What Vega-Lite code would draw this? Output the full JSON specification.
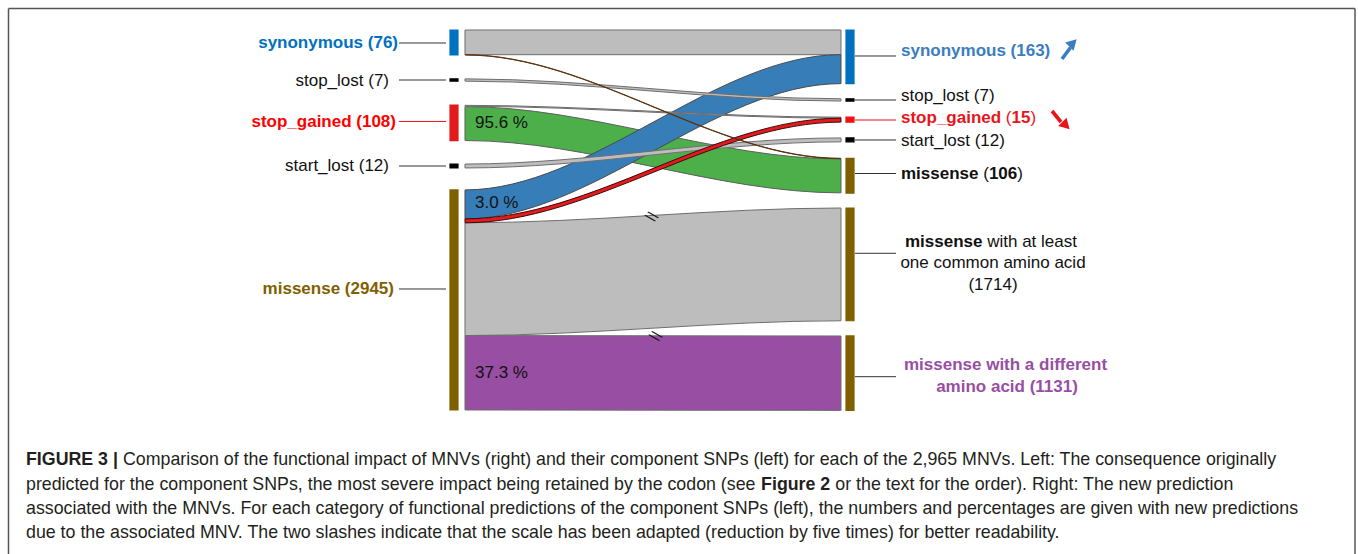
{
  "$schema": "https://vega.github.io/schema/vega-lite/v6.json",
  "width": 1358,
  "height": 554,
  "padding": 0,
  "autosize": {"type": "none"},
  "background": "white",
  "config": {"view": {"stroke": null}, "text": {"font": "Liberation Sans"}},
  "resolve": {"scale": {"color": "independent", "fill": "independent", "stroke": "independent"}},
  "datasets": {
    "flows": [
      {"flow": "f01", "change": "unchanged", "x": 0, "y0": 0, "y1": 75},
      {"flow": "f01", "change": "unchanged", "x": 0.001, "y0": 0, "y1": 75},
      {"flow": "f01", "change": "unchanged", "x": 0.999, "y0": 0, "y1": 75},
      {"flow": "f01", "change": "unchanged", "x": 1, "y0": 0, "y1": 75},
      {"flow": "f02", "change": "unchanged", "x": 0, "y0": 586, "y1": 928.8},
      {"flow": "f02", "change": "unchanged", "x": 0.001, "y0": 586, "y1": 928.8},
      {"flow": "f02", "change": "unchanged", "x": 0.999, "y0": 541, "y1": 883.8},
      {"flow": "f02", "change": "unchanged", "x": 1, "y0": 541, "y1": 883.8},
      {"flow": "f03", "change": "to_missense_different", "x": 0, "y0": 928.8, "y1": 1155},
      {"flow": "f03", "change": "to_missense_different", "x": 0.001, "y0": 928.8, "y1": 1155},
      {"flow": "f03", "change": "to_missense_different", "x": 0.999, "y0": 930, "y1": 1156.2},
      {"flow": "f03", "change": "to_missense_different", "x": 1, "y0": 930, "y1": 1156.2},
      {"flow": "f04", "change": "to_missense", "x": 0, "y0": 233, "y1": 336},
      {"flow": "f04", "change": "to_missense", "x": 0.001, "y0": 233, "y1": 336},
      {"flow": "f04", "change": "to_missense", "x": 0.999, "y0": 392, "y1": 495},
      {"flow": "f04", "change": "to_missense", "x": 1, "y0": 392, "y1": 495},
      {"flow": "f05", "change": "to_synonymous", "x": 0, "y0": 486, "y1": 574},
      {"flow": "f05", "change": "to_synonymous", "x": 0.001, "y0": 486, "y1": 574},
      {"flow": "f05", "change": "to_synonymous", "x": 0.999, "y0": 75, "y1": 163},
      {"flow": "f05", "change": "to_synonymous", "x": 1, "y0": 75, "y1": 163},
      {"flow": "f06", "change": "unchanged", "x": 0, "y0": 148.5, "y1": 155.5},
      {"flow": "f06", "change": "unchanged", "x": 0.001, "y0": 148.5, "y1": 155.5},
      {"flow": "f06", "change": "unchanged", "x": 0.999, "y0": 209, "y1": 216},
      {"flow": "f06", "change": "unchanged", "x": 1, "y0": 209, "y1": 216},
      {"flow": "f07", "change": "unchanged", "x": 0, "y0": 229, "y1": 232},
      {"flow": "f07", "change": "unchanged", "x": 0.001, "y0": 229, "y1": 232},
      {"flow": "f07", "change": "unchanged", "x": 0.999, "y0": 265, "y1": 268},
      {"flow": "f07", "change": "unchanged", "x": 1, "y0": 265, "y1": 268},
      {"flow": "f08", "change": "unchanged", "x": 0, "y0": 407.4, "y1": 419.4},
      {"flow": "f08", "change": "unchanged", "x": 0.001, "y0": 407.4, "y1": 419.4},
      {"flow": "f08", "change": "unchanged", "x": 0.999, "y0": 328, "y1": 340},
      {"flow": "f08", "change": "unchanged", "x": 1, "y0": 328, "y1": 340},
      {"flow": "f09", "change": "to_stop_gained", "x": 0, "y0": 574, "y1": 586},
      {"flow": "f09", "change": "to_stop_gained", "x": 0.001, "y0": 574, "y1": 586},
      {"flow": "f09", "change": "to_stop_gained", "x": 0.999, "y0": 268, "y1": 280},
      {"flow": "f09", "change": "to_stop_gained", "x": 1, "y0": 268, "y1": 280},
      {"flow": "f10", "change": "synonymous_to_missense", "x": 0, "y0": 75, "y1": 76},
      {"flow": "f10", "change": "synonymous_to_missense", "x": 0.001, "y0": 75, "y1": 76},
      {"flow": "f10", "change": "synonymous_to_missense", "x": 0.999, "y0": 390, "y1": 391},
      {"flow": "f10", "change": "synonymous_to_missense", "x": 1, "y0": 390, "y1": 391}
    ],
    "nodes": [
      {"side": "left", "node": "synonymous", "y0": 0, "y1": 76},
      {"side": "left", "node": "stop_lost", "y0": 148.5, "y1": 155.5},
      {"side": "left", "node": "stop_gained", "y0": 228, "y1": 336},
      {"side": "left", "node": "start_lost", "y0": 407.4, "y1": 419.4},
      {"side": "left", "node": "missense", "y0": 486, "y1": 1155},
      {"side": "right", "node": "synonymous", "y0": 0, "y1": 163},
      {"side": "right", "node": "stop_lost", "y0": 209, "y1": 216},
      {"side": "right", "node": "stop_gained", "y0": 265, "y1": 280},
      {"side": "right", "node": "start_lost", "y0": 328, "y1": 340},
      {"side": "right", "node": "missense", "y0": 390, "y1": 496},
      {"side": "right", "node": "missense_common", "y0": 541, "y1": 883.8},
      {"side": "right", "node": "missense_different", "y0": 930, "y1": 1156.2}
    ],
    "links": [
      {"side": "left", "node": "synonymous", "y": 39.5},
      {"side": "left", "node": "stop_lost", "y": 152},
      {"side": "left", "node": "stop_gained", "y": 278},
      {"side": "left", "node": "start_lost", "y": 413.4},
      {"side": "left", "node": "missense", "y": 787.2},
      {"side": "right", "node": "synonymous", "y": 79},
      {"side": "right", "node": "stop_lost", "y": 212.8},
      {"side": "right", "node": "stop_gained", "y": 273.6},
      {"side": "right", "node": "start_lost", "y": 334.3},
      {"side": "right", "node": "missense", "y": 436.2},
      {"side": "right", "node": "missense_common", "y": 678.7},
      {"side": "right", "node": "missense_different", "y": 1053.8}
    ],
    "leftBold": [
      {"text": "synonymous (76)", "node": "synonymous", "x": -0.17819, "y": 38.6},
      {"text": "stop_gained (108)", "node": "stop_gained", "x": -0.18351, "y": 278.72},
      {"text": "missense (2945)", "node": "missense", "x": -0.18883, "y": 788.15}
    ],
    "leftPlain": [
      {"text": "stop_lost (7)", "node": "stop_lost", "x": -0.20213, "y": 154.1},
      {"text": "start_lost (12)", "node": "start_lost", "x": -0.20213, "y": 412.46}
    ],
    "rightBold": [
      {"text": "synonymous (163)", "node": "synonymous", "x": 1.15957, "y": 62.92},
      {"text": "stop_gained", "node": "stop_gained", "x": 1.15957, "y": 266.57},
      {"text": "15", "node": "stop_gained", "x": 1.45346, "y": 266.57},
      {"text": "missense", "node": "missense", "x": 1.15957, "y": 437.69},
      {"text": "106", "node": "missense", "x": 1.39335, "y": 437.69},
      {"text": "missense", "node": "missense_common", "x": 1.17021, "y": 645.29}
    ],
    "rightPlain": [
      {"text": "stop_lost (7)", "node": "stop_lost", "x": 1.15957, "y": 200.61},
      {"text": "(", "node": "stop_gained", "x": 1.4383, "y": 266.57},
      {"text": ")", "node": "stop_gained", "x": 1.50372, "y": 266.57},
      {"text": "start_lost (12)", "node": "start_lost", "x": 1.15957, "y": 336.47},
      {"text": "(", "node": "missense", "x": 1.37819, "y": 437.69},
      {"text": ")", "node": "missense", "x": 1.46888, "y": 437.69},
      {"text": "with at least", "node": "missense_common", "x": 1.38883, "y": 645.29}
    ],
    "centerPlain": [
      {"text": "one common amino acid", "node": "missense_common", "x": 1.40426, "y": 709.12},
      {"text": "(1714)", "node": "missense_common", "x": 1.40426, "y": 775.08}
    ],
    "centerBold": [
      {"text": "missense with a different", "node": "missense_different", "x": 1.4375, "y": 1018.24},
      {"text": "amino acid (1131)", "node": "missense_different", "x": 1.44149, "y": 1084.19}
    ],
    "percents": [
      {"text": "95.6 %", "y": 282.67},
      {"text": "3.0 %", "y": 525.84},
      {"text": "37.3 %", "y": 1042.55}
    ],
    "breaks": [
      {"x": 0.49734, "y": 568.4},
      {"x": 0.50798, "y": 931.6}
    ],
    "arrowShafts": [
      {"trend": "up", "x": 1.58777, "y": 88.1, "x2": 1.61037, "y2": 53.2},
      {"trend": "down", "x": 1.56117, "y": 246.2, "x2": 1.58511, "y2": 279.6}
    ],
    "arrowHeads": [
      {"trend": "up", "x": 1.61702, "y": 39.5},
      {"trend": "down", "x": 1.5984, "y": 290.3}
    ],
    "captionBold": [
      {"text": "FIGURE 3 |", "x": -1.16755, "y": 1307.0},
      {"text": "Figure 2", "x": 0.7875, "y": 1381.5}
    ],
    "captionPlain": [
      {"text": "Comparison of the functional impact of MNVs (right) and their component SNPs (left) for each of the 2,965 MNVs. Left: The consequence originally", "x": -0.90957, "y": 1307.0},
      {"text": "predicted for the component SNPs, the most severe impact being retained by the codon (see", "x": -1.16755, "y": 1381.5},
      {"text": "or the text for the order). Right: The new prediction", "x": 0.98484, "y": 1381.5},
      {"text": "associated with the MNVs. For each category of functional predictions of the component SNPs (left), the numbers and percentages are given with new predictions", "x": -1.16755, "y": 1455.9},
      {"text": "due to the associated MNV. The two slashes indicate that the scale has been adapted (reduction by five times) for better readability.", "x": -1.16755, "y": 1528.9}
    ]
  },
  "layer": [
    {
      "data": {"values": [{}]},
      "mark": {"type": "rule", "stroke": "#555555", "strokeWidth": 1.5},
      "encoding": {
        "x": {"datum": -1.2141, "type": "quantitative", "scale": {"domain": [-1.2367, 2.375], "nice": false, "zero": false}, "axis": null},
        "x2": {"datum": 2.36702},
        "y": {"datum": -65.35, "type": "quantitative", "scale": {"domain": [-91.185, 1592.705], "nice": false, "zero": false, "reverse": true}, "axis": null}
      }
    },
    {
      "data": {"values": [{}]},
      "mark": {"type": "rule", "stroke": "#555555", "strokeWidth": 1.5},
      "encoding": {
        "x": {"datum": -1.2141, "type": "quantitative", "scale": {"domain": [-1.2367, 2.375], "nice": false, "zero": false}, "axis": null},
        "y": {"datum": -65.35, "type": "quantitative", "scale": {"domain": [-91.185, 1592.705], "nice": false, "zero": false, "reverse": true}, "axis": null},
        "y2": {"datum": 1592.705}
      }
    },
    {
      "data": {"values": [{}]},
      "mark": {"type": "rule", "stroke": "#555555", "strokeWidth": 1.5},
      "encoding": {
        "x": {"datum": 2.36702, "type": "quantitative", "scale": {"domain": [-1.2367, 2.375], "nice": false, "zero": false}, "axis": null},
        "y": {"datum": -65.35, "type": "quantitative", "scale": {"domain": [-91.185, 1592.705], "nice": false, "zero": false, "reverse": true}, "axis": null},
        "y2": {"datum": 1592.705}
      }
    },
    {
      "data": {"name": "flows"},
      "mark": {"type": "area", "interpolate": "monotone", "strokeWidth": 1},
      "encoding": {
        "x": {"field": "x", "type": "quantitative", "scale": {"domain": [-1.2367, 2.375], "nice": false, "zero": false}, "axis": null},
        "y": {"field": "y0", "type": "quantitative", "scale": {"domain": [-91.185, 1592.705], "nice": false, "zero": false, "reverse": true}, "axis": null},
        "y2": {"field": "y1"},
        "detail": {"field": "flow"},
        "fill": {"field": "change", "type": "nominal", "legend": null,
          "scale": {"domain": ["unchanged", "to_missense_different", "to_missense", "to_synonymous", "to_stop_gained", "synonymous_to_missense"],
                    "range": ["#BDBDBD", "#984EA3", "#4DAF4A", "#377EB8", "#E41A1C", "#7B4B22"]}},
        "stroke": {"field": "change", "type": "nominal", "legend": null,
          "scale": {"domain": ["unchanged", "to_missense_different", "to_missense", "to_synonymous", "to_stop_gained", "synonymous_to_missense"],
                    "range": ["#6E6E6E", "#6E6E6E", "#5E5E5E", "#4A4A4A", "#3A0A0A", "#5A3412"]}}
      }
    },
    {
      "data": {"name": "nodes"},
      "transform": [{"filter": "datum.side === 'left'"}],
      "mark": {"type": "rect", "strokeWidth": 1.2},
      "encoding": {
        "x": {"datum": -0.03989, "type": "quantitative", "scale": {"domain": [-1.2367, 2.375], "nice": false, "zero": false}, "axis": null},
        "x2": {"datum": -0.01862},
        "y": {"field": "y0", "type": "quantitative", "scale": {"domain": [-91.185, 1592.705], "nice": false, "zero": false, "reverse": true}, "axis": null},
        "y2": {"field": "y1"},
        "fill": {"field": "node", "type": "nominal", "legend": null,
          "scale": {"domain": ["synonymous", "stop_lost", "stop_gained", "start_lost", "missense"],
                    "range": ["#0070C0", "#000000", "#E31A1C", "#000000", "#7F6000"]}},
        "stroke": {"field": "node", "type": "nominal", "legend": null,
          "scale": {"domain": ["synonymous", "stop_lost", "stop_gained", "start_lost", "missense"],
                    "range": ["#0070C0", "#000000", "#E31A1C", "#000000", "#7F6000"]}}
      }
    },
    {
      "data": {"name": "nodes"},
      "transform": [{"filter": "datum.side === 'right'"}],
      "mark": {"type": "rect", "strokeWidth": 1.2},
      "encoding": {
        "x": {"datum": 1.0133, "type": "quantitative", "scale": {"domain": [-1.2367, 2.375], "nice": false, "zero": false}, "axis": null},
        "x2": {"datum": 1.03457},
        "y": {"field": "y0", "type": "quantitative", "scale": {"domain": [-91.185, 1592.705], "nice": false, "zero": false, "reverse": true}, "axis": null},
        "y2": {"field": "y1"},
        "fill": {"field": "node", "type": "nominal", "legend": null,
          "scale": {"domain": ["synonymous", "stop_lost", "stop_gained", "start_lost", "missense", "missense_common", "missense_different"],
                    "range": ["#0070C0", "#000000", "#F01010", "#000000", "#7F6000", "#7F6000", "#7F6000"]}},
        "stroke": {"field": "node", "type": "nominal", "legend": null,
          "scale": {"domain": ["synonymous", "stop_lost", "stop_gained", "start_lost", "missense", "missense_common", "missense_different"],
                    "range": ["#0070C0", "#000000", "#F01010", "#000000", "#7F6000", "#7F6000", "#7F6000"]}}
      }
    },
    {
      "data": {"name": "links"},
      "transform": [{"filter": "datum.side === 'left'"}],
      "mark": {"type": "rule", "strokeWidth": 1},
      "encoding": {
        "x": {"datum": -0.17553, "type": "quantitative", "scale": {"domain": [-1.2367, 2.375], "nice": false, "zero": false}, "axis": null},
        "x2": {"datum": -0.05053},
        "y": {"field": "y", "type": "quantitative", "scale": {"domain": [-91.185, 1592.705], "nice": false, "zero": false, "reverse": true}, "axis": null},
        "color": {"field": "node", "type": "nominal", "legend": null,
          "scale": {"domain": ["synonymous", "stop_lost", "stop_gained", "start_lost", "missense"],
                    "range": ["#333333", "#333333", "#E8141C", "#333333", "#333333"]}}
      }
    },
    {
      "data": {"name": "links"},
      "transform": [{"filter": "datum.side === 'right'"}],
      "mark": {"type": "rule", "strokeWidth": 1},
      "encoding": {
        "x": {"datum": 1.03723, "type": "quantitative", "scale": {"domain": [-1.2367, 2.375], "nice": false, "zero": false}, "axis": null},
        "x2": {"datum": 1.14628},
        "y": {"field": "y", "type": "quantitative", "scale": {"domain": [-91.185, 1592.705], "nice": false, "zero": false, "reverse": true}, "axis": null},
        "color": {"field": "node", "type": "nominal", "legend": null,
          "scale": {"domain": ["synonymous", "stop_lost", "stop_gained", "start_lost", "missense", "missense_common", "missense_different"],
                    "range": ["#333333", "#333333", "#E8141C", "#333333", "#333333", "#333333", "#333333"]}}
      }
    },
    {
      "data": {"name": "leftBold"},
      "mark": {"type": "text", "align": "right", "baseline": "middle", "fontSize": 17, "fontWeight": "bold", "font": "Liberation Sans"},
      "encoding": {
        "x": {"field": "x", "type": "quantitative", "scale": {"domain": [-1.2367, 2.375], "nice": false, "zero": false}, "axis": null},
        "y": {"field": "y", "type": "quantitative", "scale": {"domain": [-91.185, 1592.705], "nice": false, "zero": false, "reverse": true}, "axis": null},
        "text": {"field": "text"},
        "color": {"field": "node", "type": "nominal", "legend": null,
          "scale": {"domain": ["synonymous", "stop_gained", "missense"], "range": ["#0070C0", "#FF0000", "#7F6000"]}}
      }
    },
    {
      "data": {"name": "leftPlain"},
      "mark": {"type": "text", "align": "right", "baseline": "middle", "fontSize": 17, "font": "Liberation Sans", "color": "#111111"},
      "encoding": {
        "x": {"field": "x", "type": "quantitative", "scale": {"domain": [-1.2367, 2.375], "nice": false, "zero": false}, "axis": null},
        "y": {"field": "y", "type": "quantitative", "scale": {"domain": [-91.185, 1592.705], "nice": false, "zero": false, "reverse": true}, "axis": null},
        "text": {"field": "text"}
      }
    },
    {
      "data": {"name": "rightBold"},
      "mark": {"type": "text", "align": "left", "baseline": "middle", "fontSize": 17, "fontWeight": "bold", "font": "Liberation Sans"},
      "encoding": {
        "x": {"field": "x", "type": "quantitative", "scale": {"domain": [-1.2367, 2.375], "nice": false, "zero": false}, "axis": null},
        "y": {"field": "y", "type": "quantitative", "scale": {"domain": [-91.185, 1592.705], "nice": false, "zero": false, "reverse": true}, "axis": null},
        "text": {"field": "text"},
        "color": {"field": "node", "type": "nominal", "legend": null,
          "scale": {"domain": ["synonymous", "stop_gained", "missense", "missense_common"], "range": ["#3A7DC0", "#E8141C", "#111111", "#111111"]}}
      }
    },
    {
      "data": {"name": "rightPlain"},
      "mark": {"type": "text", "align": "left", "baseline": "middle", "fontSize": 17, "font": "Liberation Sans"},
      "encoding": {
        "x": {"field": "x", "type": "quantitative", "scale": {"domain": [-1.2367, 2.375], "nice": false, "zero": false}, "axis": null},
        "y": {"field": "y", "type": "quantitative", "scale": {"domain": [-91.185, 1592.705], "nice": false, "zero": false, "reverse": true}, "axis": null},
        "text": {"field": "text"},
        "color": {"field": "node", "type": "nominal", "legend": null,
          "scale": {"domain": ["stop_lost", "stop_gained", "start_lost", "missense", "missense_common"], "range": ["#111111", "#E8141C", "#111111", "#111111", "#111111"]}}
      }
    },
    {
      "data": {"name": "centerPlain"},
      "mark": {"type": "text", "align": "center", "baseline": "middle", "fontSize": 17, "font": "Liberation Sans", "color": "#111111"},
      "encoding": {
        "x": {"field": "x", "type": "quantitative", "scale": {"domain": [-1.2367, 2.375], "nice": false, "zero": false}, "axis": null},
        "y": {"field": "y", "type": "quantitative", "scale": {"domain": [-91.185, 1592.705], "nice": false, "zero": false, "reverse": true}, "axis": null},
        "text": {"field": "text"}
      }
    },
    {
      "data": {"name": "centerBold"},
      "mark": {"type": "text", "align": "center", "baseline": "middle", "fontSize": 17, "fontWeight": "bold", "font": "Liberation Sans", "color": "#984EA3"},
      "encoding": {
        "x": {"field": "x", "type": "quantitative", "scale": {"domain": [-1.2367, 2.375], "nice": false, "zero": false}, "axis": null},
        "y": {"field": "y", "type": "quantitative", "scale": {"domain": [-91.185, 1592.705], "nice": false, "zero": false, "reverse": true}, "axis": null},
        "text": {"field": "text"}
      }
    },
    {
      "data": {"name": "percents"},
      "mark": {"type": "text", "align": "left", "baseline": "middle", "fontSize": 17, "font": "Liberation Sans", "color": "#111111"},
      "encoding": {
        "x": {"datum": 0.0266, "type": "quantitative", "scale": {"domain": [-1.2367, 2.375], "nice": false, "zero": false}, "axis": null},
        "y": {"field": "y", "type": "quantitative", "scale": {"domain": [-91.185, 1592.705], "nice": false, "zero": false, "reverse": true}, "axis": null},
        "text": {"field": "text"}
      }
    },
    {
      "data": {"name": "breaks"},
      "mark": {"type": "text", "align": "center", "baseline": "middle", "fontSize": 16, "font": "Liberation Sans", "color": "#111111", "angle": 315},
      "encoding": {
        "x": {"field": "x", "type": "quantitative", "scale": {"domain": [-1.2367, 2.375], "nice": false, "zero": false}, "axis": null},
        "y": {"field": "y", "type": "quantitative", "scale": {"domain": [-91.185, 1592.705], "nice": false, "zero": false, "reverse": true}, "axis": null},
        "text": {"value": "\\\\"}
      }
    },
    {
      "data": {"name": "arrowShafts"},
      "mark": {"type": "rule", "strokeWidth": 3.6, "strokeCap": "butt"},
      "encoding": {
        "x": {"field": "x", "type": "quantitative", "scale": {"domain": [-1.2367, 2.375], "nice": false, "zero": false}, "axis": null},
        "x2": {"field": "x2"},
        "y": {"field": "y", "type": "quantitative", "scale": {"domain": [-91.185, 1592.705], "nice": false, "zero": false, "reverse": true}, "axis": null},
        "y2": {"field": "y2"},
        "color": {"field": "trend", "type": "nominal", "legend": null,
          "scale": {"domain": ["up", "down"], "range": ["#3A7DC0", "#E8141C"]}}
      }
    },
    {
      "data": {"name": "arrowHeads"},
      "transform": [{"filter": "datum.trend === 'up'"}],
      "mark": {"type": "point", "shape": "triangle-up", "filled": true, "size": 140, "angle": 45, "opacity": 1, "color": "#3A7DC0"},
      "encoding": {
        "x": {"field": "x", "type": "quantitative", "scale": {"domain": [-1.2367, 2.375], "nice": false, "zero": false}, "axis": null},
        "y": {"field": "y", "type": "quantitative", "scale": {"domain": [-91.185, 1592.705], "nice": false, "zero": false, "reverse": true}, "axis": null}
      }
    },
    {
      "data": {"name": "arrowHeads"},
      "transform": [{"filter": "datum.trend === 'down'"}],
      "mark": {"type": "point", "shape": "triangle-up", "filled": true, "size": 140, "angle": 135, "opacity": 1, "color": "#E8141C"},
      "encoding": {
        "x": {"field": "x", "type": "quantitative", "scale": {"domain": [-1.2367, 2.375], "nice": false, "zero": false}, "axis": null},
        "y": {"field": "y", "type": "quantitative", "scale": {"domain": [-91.185, 1592.705], "nice": false, "zero": false, "reverse": true}, "axis": null}
      }
    },
    {
      "data": {"name": "captionBold"},
      "mark": {"type": "text", "align": "left", "baseline": "middle", "fontSize": 17.8, "fontWeight": "bold", "font": "Liberation Sans", "color": "#231F20"},
      "encoding": {
        "x": {"field": "x", "type": "quantitative", "scale": {"domain": [-1.2367, 2.375], "nice": false, "zero": false}, "axis": null},
        "y": {"field": "y", "type": "quantitative", "scale": {"domain": [-91.185, 1592.705], "nice": false, "zero": false, "reverse": true}, "axis": null},
        "text": {"field": "text"}
      }
    },
    {
      "data": {"name": "captionPlain"},
      "mark": {"type": "text", "align": "left", "baseline": "middle", "fontSize": 17.8, "font": "Liberation Sans", "color": "#231F20"},
      "encoding": {
        "x": {"field": "x", "type": "quantitative", "scale": {"domain": [-1.2367, 2.375], "nice": false, "zero": false}, "axis": null},
        "y": {"field": "y", "type": "quantitative", "scale": {"domain": [-91.185, 1592.705], "nice": false, "zero": false, "reverse": true}, "axis": null},
        "text": {"field": "text"}
      }
    }
  ]
}
